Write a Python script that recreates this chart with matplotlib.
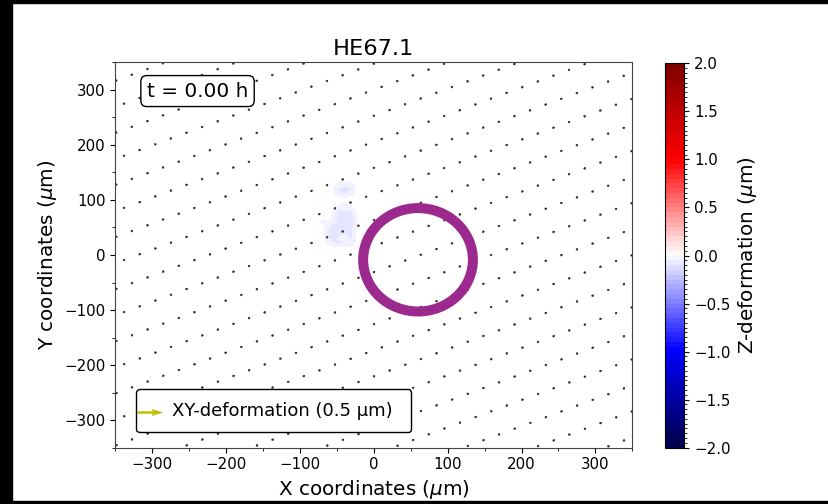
import numpy as np
import matplotlib
matplotlib.use('Agg')
import matplotlib.pyplot as plt
from matplotlib import colors, cm
from matplotlib.patches import Ellipse, Rectangle
from matplotlib.lines import Line2D
from matplotlib.ticker import MultipleLocator

# measurement lattice (um): one corner point plus the two lattice steps
grid_origin = np.array([296.4, -263.2])
grid_step_a = np.array([-21.14, -10.45])
grid_step_b = np.array([-10.54, -52.53])
ax_limit = 350

# XY-deformation at t = 0 is zero everywhere
arrow_scale = 10.2
key_length = 0.5

# Z-deformation, small patch where it differs from zero (um)
patch_x = [-80, -70, -60, -50, -40, -30, -20]
patch_y = [0, 10, 20, 30, 40, 50, 60, 70, 80, 90, 100, 110, 120, 130, 140]
patch_z = [
    [0, 0, 0, 0, 0, 0, 0],
    [0, 0, 0, 0, 0, 0, 0],
    [0, 0, -0.05, -0.08, -0.08, -0.06, 0],
    [0, 0, -0.08, -0.08, -0.03, -0.08, 0],
    [0, -0.02, -0.08, -0.08, -0.08, -0.08, 0],
    [0, 0, -0.08, -0.08, -0.09, -0.09, 0],
    [0, -0.06, -0.05, -0.08, -0.10, -0.14, 0],
    [0, 0, 0, -0.08, -0.09, -0.10, 0],
    [0, 0, 0, -0.08, -0.08, -0.08, 0],
    [0, 0, 0, -0.03, -0.05, -0.03, 0],
    [0, 0, 0, 0, 0, 0, 0],
    [0, 0, 0, -0.04, -0.08, -0.05, 0],
    [0, 0, 0, -0.08, -0.08, -0.08, 0],
    [0, 0, 0, -0.03, -0.07, -0.04, 0],
    [0, 0, 0, 0, 0, 0, 0],
]

# ring (um)
ring_center = (59.9, -8.7)
ring_width = 148.6
ring_height = 187.8

cbar_ticks = [-2.0, -1.5, -1.0, -0.5, 0.0, 0.5, 1.0, 1.5, 2.0]

# build the lattice points inside the view
m, n = np.meshgrid(np.arange(-40, 80), np.arange(-40, 40))
px = grid_origin[0] + m * grid_step_a[0] + n * grid_step_b[0]
py = grid_origin[1] + m * grid_step_a[1] + n * grid_step_b[1]
keep = (np.abs(px) < ax_limit) & (np.abs(py) < ax_limit)
px, py = px[keep], py[keep]
u = np.zeros_like(px)
v = np.zeros_like(py)

fig = plt.figure(figsize=(8.29, 5.04), dpi=100)
ax = fig.add_axes([0.1391, 0.1117, 0.6236, 0.7647])
cax = fig.add_axes([0.8022, 0.1117, 0.0233, 0.7627])

# black frame edges of the video frame
for rect in [(0, 0, 12 / 829, 1), (0, 1 - 3 / 504, 1, 3 / 504), (0, 0, 1, 3 / 504)]:
    fig.patches.append(Rectangle(rect[:2], rect[2], rect[3], transform=fig.transFigure,
                                 color='black', zorder=10))

fill_levels = np.linspace(-2.025, 2.025, 82)
ax.contourf(patch_x, patch_y, patch_z, levels=fill_levels, cmap='seismic',
            norm=colors.Normalize(-2, 2), zorder=0.5)

q = ax.quiver(px, py, u, v, color='#2b2b1e', edgecolor='#2b2b1e', linewidth=0.3,
              scale=arrow_scale, scale_units='width', width=0.004)

ax.add_patch(Ellipse(ring_center, ring_width, ring_height, fill=False,
                     edgecolor='#9c2a8e', linewidth=7.2, zorder=2))

ax.set_xlim(-ax_limit, ax_limit)
ax.set_ylim(-ax_limit, ax_limit)
ax.xaxis.set_major_locator(MultipleLocator(100))
ax.yaxis.set_major_locator(MultipleLocator(100))
ax.xaxis.set_minor_locator(MultipleLocator(50))
ax.yaxis.set_minor_locator(MultipleLocator(50))
ax.tick_params(labelsize=10.8)
for sp in ax.spines.values():
    sp.set_color('#444444')
ax.set_title('HE67.1', fontsize=16.2, pad=5)
ax.set_xlabel('X coordinates ($\\mu$m)', fontsize=14.4)
ax.set_ylabel('Y coordinates ($\\mu$m)', fontsize=14.4)

ax.text(0.061, 0.95, 't = 0.00 h', transform=ax.transAxes, fontsize=14.4,
        va='top', ha='left', zorder=4,
        bbox=dict(boxstyle='round', facecolor='white', edgecolor='black'))

leg = ax.legend(handles=[Line2D([], [], linestyle='none')],
                labels=['XY-deformation (0.5 µm) '], loc='lower left',
                bbox_to_anchor=(0.04, 0.04), borderaxespad=0, fontsize=13,
                handlelength=0.85, handletextpad=0.45, borderpad=0.7,
                fancybox=True, framealpha=1, edgecolor='black')
qk = ax.quiverkey(q, 0.0903, 0.0934, key_length, '', labelpos='E',
                  coordinates='axes', color='y')
qk.set_zorder(6)

sm = cm.ScalarMappable(norm=colors.BoundaryNorm(np.linspace(-2, 2, 81), 256),
                       cmap='seismic')
cbar = fig.colorbar(sm, cax=cax, ticks=cbar_ticks)
cbar.ax.tick_params(labelsize=10.8)
cbar.set_label('Z-deformation ($\\mu$m)', fontsize=14.4)

fig.savefig('out.png', dpi=100)
